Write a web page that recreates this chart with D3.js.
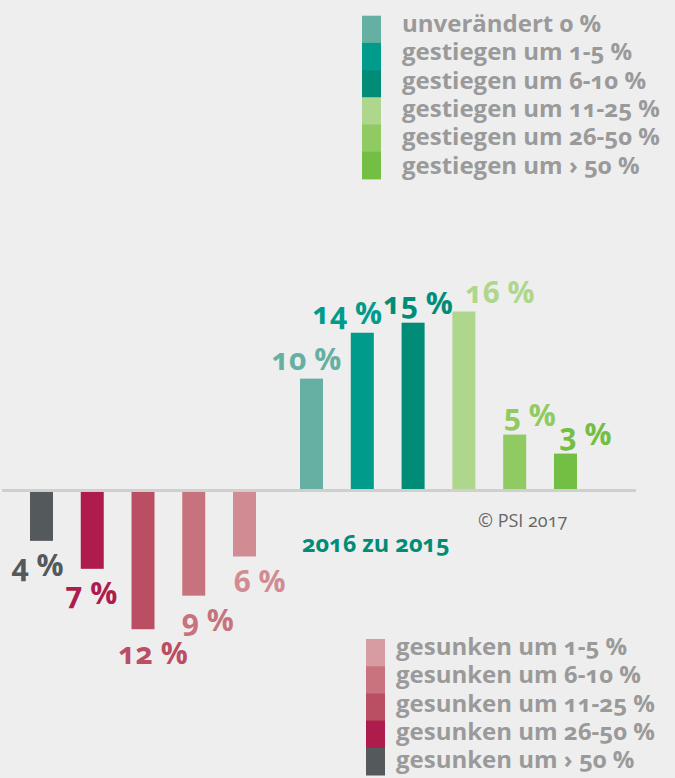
<!DOCTYPE html>
<html>
<head>
<meta charset="utf-8">
<script src="https://cdn.jsdelivr.net/npm/d3@7"></script>
<style>
  html, body { margin: 0; padding: 0; background: #eeeeee; }
  svg { display: block; }
  text { font-family: "Open Sans", "Noto Sans", sans-serif; font-variant-numeric: oldstyle-nums; font-feature-settings: "onum" 1; }
</style>
</head>
<body>
<div id="chart"></div>
<script>
// gesunken (left group), left to right
const downCats = ["gesunken um > 50 %", "gesunken um 26-50 %", "gesunken um 11-25 %", "gesunken um 6-10 %", "gesunken um 1-5 %"];
const downValues = [4.5, 7.0, 12.4, 9.4, 5.9];
const downLabels = ["4 %", "7 %", "12 %", "9 %", "6 %"];
const downColors = ["#54595b", "#ad1c4d", "#ba4f63", "#c7737e", "#d08c92"];

// unverändert / gestiegen (right group)
const upCats = ["unverändert 0 %", "gestiegen um 1-5 %", "gestiegen um 6-10 %", "gestiegen um 11-25 %", "gestiegen um 26-50 %", "gestiegen um › 50 %"];
const upValues = [10.0, 14.1, 15.0, 16.0, 5.0, 3.3];
const upLabels = ["10 %", "14 %", "15 %", "16 %", "5 %", "3 %"];
const upColors = ["#65b0a3", "#009b8a", "#008c77", "#aed68c", "#8fca63", "#73bf44"];

// legend for the lower group is listed top to bottom
const downLegend = ["gesunken um 1-5 %", "gesunken um 6-10 %", "gesunken um 11-25 %", "gesunken um 26-50 %", "gesunken um › 50 %"];
const downLegendColors = ["#d69ca1", "#c8737e", "#ba4f63", "#ad1c4d", "#54595b"];

// small hand nudges of the value labels (as in the original layout)
const downNudge = [-4, -1, 10, 14, 15];
const upNudge = [-5, -15, 5, 36, 15, 20];

const W = 675, H = 778;
const svg = d3.select("#chart").append("svg")
    .attr("width", W).attr("height", H);

svg.append("rect").attr("width", W).attr("height", H).attr("fill", "#eeeeee");

const y = d3.scaleLinear().domain([0, 16]).range([490.5, 311.5]);

const xDown = d3.scaleBand().domain(downCats).range([30, 256]).paddingInner(0.547).paddingOuter(0);
const xUp = d3.scaleBand().domain(upCats).range([300, 577]).paddingInner(0.547).paddingOuter(0);

// bars going down
svg.selectAll("rect.down")
    .data(downValues)
    .enter().append("rect")
        .attr("class", "down")
        .attr("x", (d, i) => xDown(downCats[i]))
        .attr("y", y(0))
        .attr("width", xDown.bandwidth())
        .attr("height", d => y(-d) - y(0))
        .attr("fill", (d, i) => downColors[i]);

// bars going up
svg.selectAll("rect.up")
    .data(upValues)
    .enter().append("rect")
        .attr("class", "up")
        .attr("x", (d, i) => xUp(upCats[i]))
        .attr("y", d => y(d))
        .attr("width", xUp.bandwidth())
        .attr("height", d => y(0) - y(d))
        .attr("fill", (d, i) => upColors[i]);

// zero line
svg.append("line")
    .attr("x1", 2).attr("x2", 636)
    .attr("y1", y(0)).attr("y2", y(0))
    .attr("stroke", "#cfcfcf")
    .attr("stroke-width", 3);

// value labels
svg.selectAll("text.downLab")
    .data(downValues)
    .enter().append("text")
        .attr("class", "downLab")
        .attr("x", (d, i) => xDown(downCats[i]) + xDown.bandwidth() / 2 + downNudge[i])
        .attr("y", d => y(-d) + 35)
        .attr("text-anchor", "middle")
        .style("font-size", "30px")
        .style("font-weight", 700)
        .attr("fill", (d, i) => downColors[i])
        .text((d, i) => downLabels[i]);

svg.selectAll("text.upLab")
    .data(upValues)
    .enter().append("text")
        .attr("class", "upLab")
        .attr("x", (d, i) => xUp(upCats[i]) + xUp.bandwidth() / 2 + upNudge[i])
        .attr("y", d => y(d) - 9)
        .attr("text-anchor", "middle")
        .style("font-size", "30px")
        .style("font-weight", 700)
        .attr("fill", (d, i) => upColors[i])
        .text((d, i) => upLabels[i]);

// titles
svg.append("text")
    .attr("x", 302).attr("y", 552)
    .style("font-size", "23.5px")
    .style("font-weight", 700)
    .attr("fill", "#008c77")
    .text("2016 zu 2015");

svg.append("text")
    .attr("x", 478).attr("y", 527)
    .style("font-size", "18px")
    .attr("fill", "#666666")
    .text("© PSI 2017");

// legends
function legend(items, colors, x0, y0, textX, textY0) {
    const step = 27.2, textStep = 28.3;
    const g = svg.append("g");
    g.selectAll("rect")
        .data(items)
        .enter().append("rect")
            .attr("x", x0)
            .attr("y", (d, i) => y0 + i * step)
            .attr("width", 19)
            .attr("height", step + 0.5)
            .attr("fill", (d, i) => colors[i]);
    g.selectAll("text")
        .data(items)
        .enter().append("text")
            .attr("x", textX)
            .attr("y", (d, i) => textY0 + i * textStep)
            .style("font-size", "24px")
            .style("font-weight", 700)
            .attr("fill", "#9a9a9a")
            .text(d => d);
}
legend(upCats, upColors, 362, 15.7, 402, 32);
legend(downLegend, downLegendColors, 366, 639, 396, 655);
</script>
</body>
</html>
